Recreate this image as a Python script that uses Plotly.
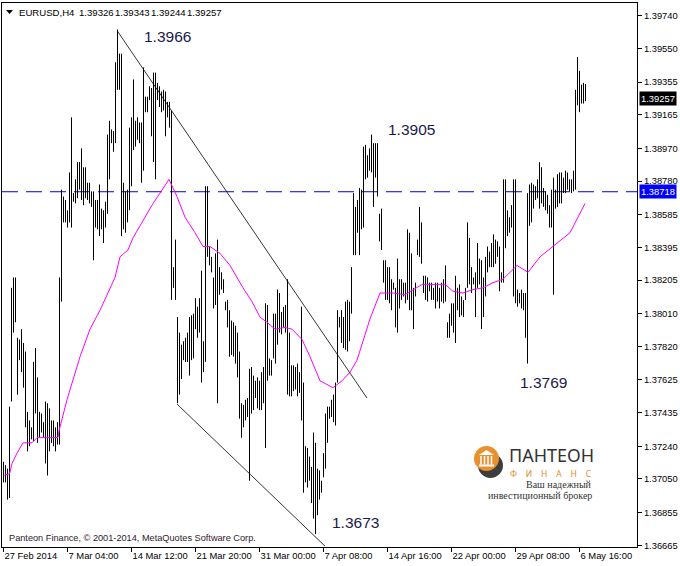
import plotly.graph_objects as go

# ---------------- data ----------------
symbol = "EURUSD,H4"
last_ohlc = [1.39326, 1.39343, 1.39244, 1.39257]

x_tick_bars = [0, 32, 64, 96, 128, 160, 192, 224, 256, 288]
x_tick_labels = ["27 Feb 2014", "7 Mar 04:00", "14 Mar 12:00", "21 Mar 20:00", "31 Mar 00:00",
                 "7 Apr 08:00", "14 Apr 16:00", "22 Apr 00:00", "29 Apr 08:00", "6 May 16:00"]

y_ticks = [1.36665, 1.36855, 1.37050, 1.37240, 1.37435, 1.37625, 1.37820, 1.38010, 1.38205,
           1.38395, 1.38585, 1.38780, 1.38970, 1.39165, 1.39355, 1.39550, 1.39740]

highs = [
    1.3715, 1.3713, 1.3711, 1.3747, 1.3816, 1.3822, 1.3822, 1.3787, 1.3786, 1.3792,
    1.3784, 1.3779, 1.3744, 1.3739, 1.3735, 1.3773, 1.3781, 1.3764, 1.3744, 1.3743,
    1.3738, 1.3750, 1.3749, 1.3746, 1.3739, 1.3739, 1.3735, 1.3738, 1.3822, 1.3873,
    1.3869, 1.3867, 1.3861, 1.3883, 1.3915, 1.3871, 1.3879, 1.3889, 1.3889, 1.3897,
    1.3886, 1.3886, 1.3877, 1.3877, 1.3872, 1.3872, 1.3867, 1.3867, 1.3876, 1.3862,
    1.3861, 1.3866, 1.3905, 1.3913, 1.3908, 1.3907, 1.3947, 1.3966, 1.3952, 1.3952,
    1.3877, 1.3872, 1.3873, 1.3909, 1.3915, 1.3937, 1.3913, 1.3915, 1.3912, 1.3912,
    1.3944, 1.3927, 1.3927, 1.3933, 1.3932, 1.3941, 1.3941, 1.3935, 1.3933, 1.3930,
    1.3931, 1.3930, 1.3924, 1.3924, 1.3919, 1.3828, 1.3844, 1.3799, 1.3790, 1.3783,
    1.3785, 1.3787, 1.3790, 1.3799, 1.3800, 1.3801, 1.3810, 1.3805, 1.3810, 1.3826,
    1.3785, 1.3875, 1.3875, 1.3840, 1.3834, 1.3822, 1.3836, 1.3844, 1.3828, 1.3825,
    1.3821, 1.3808, 1.3809, 1.3803, 1.3797, 1.3796, 1.3794, 1.3790, 1.3779, 1.3749,
    1.3748, 1.3751, 1.3752, 1.3769, 1.3770, 1.3765, 1.3762, 1.3764, 1.3762, 1.3767,
    1.3770, 1.3807, 1.3806, 1.3775, 1.3774, 1.3801, 1.3801, 1.3815, 1.3813, 1.3802,
    1.3805, 1.3806, 1.3821, 1.3790, 1.3771, 1.3771, 1.3770, 1.3772, 1.3767, 1.3805,
    1.3761, 1.3724, 1.3723, 1.3718, 1.3712, 1.3732, 1.3726, 1.3711, 1.3710, 1.3704,
    1.3720, 1.3743, 1.3747, 1.3747, 1.3751, 1.3754, 1.3761, 1.3803, 1.3799, 1.3803,
    1.3799, 1.3808, 1.3809, 1.3808, 1.3828, 1.3871, 1.3863, 1.3867, 1.3874, 1.3873,
    1.3898, 1.3899, 1.3893, 1.3897, 1.3905, 1.3900, 1.3900, 1.3900, 1.3859, 1.3862,
    1.3832, 1.3832, 1.3828, 1.3828, 1.3821, 1.3819, 1.3816, 1.3833, 1.3821, 1.3821,
    1.3819, 1.3819, 1.3850, 1.3848, 1.3836, 1.3816, 1.3819, 1.3844, 1.3863, 1.3854,
    1.3823, 1.3823, 1.3822, 1.3819, 1.3819, 1.3816, 1.3819, 1.3819, 1.3816, 1.3819,
    1.3821, 1.3829, 1.3796, 1.3801, 1.3807, 1.3807, 1.3823, 1.3816, 1.3818, 1.3811,
    1.3809, 1.3816, 1.3854, 1.3845, 1.3828, 1.3822, 1.3825, 1.3842, 1.3833, 1.3832,
    1.3822, 1.3834, 1.3840, 1.3837, 1.3842, 1.3847, 1.3844, 1.3843, 1.3840, 1.3825,
    1.3879, 1.3879, 1.3861, 1.3857, 1.3864, 1.3879, 1.3879, 1.3815, 1.3813, 1.3815,
    1.3813, 1.3813, 1.3871, 1.3876, 1.3877, 1.3876, 1.3875, 1.3879, 1.3889, 1.3886,
    1.3874, 1.3872, 1.3870, 1.3864, 1.3873, 1.3880, 1.3873, 1.3882, 1.3883, 1.3883,
    1.3880, 1.3884, 1.3883, 1.3879, 1.3879, 1.3884, 1.3931, 1.3950, 1.3942, 1.3934,
    1.3935, 1.39343,
]

lows = [
    1.3703, 1.3703, 1.3693, 1.3694, 1.3750, 1.3790, 1.3796, 1.3754, 1.3774, 1.3767,
    1.3758, 1.3735, 1.3721, 1.3724, 1.3728, 1.3727, 1.3743, 1.3726, 1.3729, 1.3732,
    1.3729, 1.3714, 1.3707, 1.3721, 1.3726, 1.3724, 1.3721, 1.3725, 1.3725, 1.3808,
    1.3854, 1.3854, 1.3851, 1.3854, 1.3851, 1.3866, 1.3865, 1.3868, 1.3873, 1.3867,
    1.3864, 1.3868, 1.3867, 1.3865, 1.3863, 1.3832, 1.3851, 1.3850, 1.3846, 1.3850,
    1.3842, 1.3851, 1.3859, 1.3879, 1.3900, 1.3895, 1.3900, 1.3931, 1.3931, 1.3846,
    1.3850, 1.3848, 1.3854, 1.3861, 1.3875, 1.3896, 1.3898, 1.3902, 1.3900, 1.3877,
    1.3884, 1.3918, 1.3918, 1.3925, 1.3904, 1.3889, 1.3879, 1.3925, 1.3921, 1.3918,
    1.3919, 1.3904, 1.3915, 1.3909, 1.3809, 1.3816, 1.3809, 1.3749, 1.3754, 1.3763,
    1.3774, 1.3773, 1.3773, 1.3765, 1.3774, 1.3775, 1.3792, 1.3787, 1.3790, 1.3761,
    1.3767, 1.3773, 1.3834, 1.3829, 1.3825, 1.3804, 1.3806, 1.3749, 1.3812, 1.3815,
    1.3813, 1.3803, 1.3793, 1.3776, 1.3777, 1.3776, 1.3772, 1.3764, 1.3740, 1.3729,
    1.3735, 1.3739, 1.3741, 1.3704, 1.3743, 1.3745, 1.3752, 1.3746, 1.3745, 1.3745,
    1.3749, 1.3723, 1.3762, 1.3765, 1.3765, 1.3775, 1.3772, 1.3783, 1.3790, 1.3789,
    1.3793, 1.3790, 1.3754, 1.3753, 1.3753, 1.3756, 1.3757, 1.3753, 1.3755, 1.3739,
    1.3697, 1.3703, 1.3700, 1.3704, 1.3691, 1.3682, 1.3673, 1.3684, 1.3693, 1.3697,
    1.3706, 1.3711, 1.3726, 1.3740, 1.3741, 1.3738, 1.3736, 1.3761, 1.3793, 1.3784,
    1.3781, 1.3780, 1.3779, 1.3785, 1.3801, 1.3835, 1.3835, 1.3848, 1.3835, 1.3850,
    1.3851, 1.3879, 1.3880, 1.3884, 1.3883, 1.3863, 1.3880, 1.3869, 1.3843, 1.3838,
    1.3819, 1.3809, 1.3809, 1.3807, 1.3803, 1.3815, 1.3793, 1.3790, 1.3804, 1.3809,
    1.3811, 1.3807, 1.3809, 1.3803, 1.3803, 1.3792, 1.3811, 1.3835, 1.3834, 1.3830,
    1.3813, 1.3809, 1.3808, 1.3814, 1.3809, 1.3809, 1.3804, 1.3808, 1.3804, 1.3808,
    1.3807, 1.3808, 1.3787, 1.3787, 1.3794, 1.3790, 1.3784, 1.3803, 1.3799, 1.3800,
    1.3799, 1.3809, 1.3816, 1.3818, 1.3813, 1.3818, 1.3799, 1.3816, 1.3818, 1.3792,
    1.3799, 1.3811, 1.3825, 1.3828, 1.3828, 1.3828, 1.3830, 1.3834, 1.3814, 1.3819,
    1.3819, 1.3839, 1.3846, 1.3848, 1.3851, 1.3811, 1.3807, 1.3805, 1.3807, 1.3804,
    1.3803, 1.3787, 1.3772, 1.3852, 1.3854, 1.3862, 1.3867, 1.3868, 1.3862, 1.3865,
    1.3863, 1.3861, 1.3859, 1.3851, 1.3851, 1.3812, 1.3862, 1.3863, 1.3865, 1.3865,
    1.3871, 1.3871, 1.3873, 1.3872, 1.3871, 1.3872, 1.3873, 1.3922, 1.3918, 1.3923,
    1.3923, 1.39244,
]

# moving average (magenta), read at selected bars
ma_x = [0, 3, 4.25, 6.75, 9.75, 14.25, 16.75, 20.75, 27.25, 27.75, 31.75, 38.25, 43.25,
        48.25, 53.25, 55.75, 58.25, 62.25, 64.75, 69.75, 74.75, 78.25, 82.75, 86.75, 90.75,
        95.75, 99.75, 103.25, 108.25, 113.25, 119.75, 124.25, 128.25, 131.75, 135.75, 140.75,
        144.25, 149.25, 153.25, 158.25, 164.75, 169.25, 173.25, 176.75, 181.75, 183.25,
        188.25, 194.75, 200.75, 209.25, 214.75, 220.75, 224.75, 229.75, 234.75, 239.75,
        244.75, 249.75, 256.75, 262.25, 268.25, 274.75, 283.25, 290.75]
ma_y = [1.3707, 1.3708, 1.3714, 1.3720, 1.3726, 1.3726, 1.3729, 1.3729, 1.3729, 1.3733,
        1.3751, 1.3776, 1.3792, 1.3803, 1.3815, 1.3822, 1.3834, 1.3838, 1.3845, 1.3855,
        1.3865, 1.3871, 1.3879, 1.3869, 1.3857, 1.3848, 1.3840, 1.3840, 1.3836, 1.3829,
        1.3816, 1.3808, 1.3799, 1.3796, 1.3792, 1.3793, 1.3792, 1.3786, 1.3776, 1.3762,
        1.3758, 1.3762, 1.3767, 1.3774, 1.3793, 1.3798, 1.3813, 1.3813, 1.3812, 1.3818,
        1.3818, 1.3818, 1.3814, 1.3813, 1.3815, 1.3816, 1.3819, 1.3821, 1.3829, 1.3825,
        1.3834, 1.3840, 1.3848, 1.3865]

trend_upper_x = [57, 181.75]
trend_upper_y = [1.3965, 1.3752]
trend_lower_x = [86.75, 160.75]
trend_lower_y = [1.37485, 1.3666]

hline_price = 1.38718
bid_price = last_ohlc[3]

note_texts = ["1.3966", "1.3905", "1.3769", "1.3673"]
note_x = [69.25, 191.25, 257.25, 163.25]
note_y = [1.3962, 1.3908, 1.3761, 1.3680]

copyright_text = "Panteon Finance, © 2001-2014, MetaQuotes Software Corp."

# ---------------- layout helpers (pixel -> paper) ----------------
W, H = 680, 566
ML, MR, MT, MB = 2, 43, 3, 19
PW, PH = W - ML - MR, H - MT - MB


def px(x):
    return (x - ML) / PW


def py(y):
    return (MT + PH - y) / PH


FONT = "Liberation Sans, Arial, sans-serif"

# ---------------- traces ----------------
bx, by = [], []
for i, (h, l) in enumerate(zip(highs, lows)):
    bx += [i, i, None]
    by += [l, h, None]

fig = go.Figure()
fig.add_trace(go.Scatter(x=bx, y=by, mode="lines", line=dict(color="black", width=1),
                         hoverinfo="skip", showlegend=False))
fig.add_trace(go.Scatter(x=ma_x, y=ma_y, mode="lines", line=dict(color="#ff00ff", width=1),
                         hoverinfo="skip", showlegend=False))
fig.add_trace(go.Scatter(x=trend_upper_x, y=trend_upper_y, mode="lines",
                         line=dict(color="black", width=0.8), hoverinfo="skip", showlegend=False))
fig.add_trace(go.Scatter(x=trend_lower_x, y=trend_lower_y, mode="lines",
                         line=dict(color="black", width=0.8), hoverinfo="skip", showlegend=False))

shapes = [
    dict(type="line", xref="paper", x0=0, x1=1, yref="y", y0=hline_price, y1=hline_price,
         line=dict(color="#0000dd", width=1, dash="16px,8px"), layer="below"),
    # small menu triangle of the chart title
    dict(type="path", xref="paper", yref="paper",
         path=f"M {px(6)},{py(10)} L {px(13)},{py(10)} L {px(9.5)},{py(14)} Z",
         fillcolor="black", line=dict(width=0)),
    # logo icon
    dict(type="circle", xref="paper", yref="paper", x0=px(478), x1=px(503), y0=py(478), y1=py(453),
         fillcolor="#3d3d3d", line=dict(width=0)),
    dict(type="circle", xref="paper", yref="paper", x0=px(474), x1=px(499), y0=py(471), y1=py(446),
         fillcolor="#e8912e", line=dict(width=0)),
    dict(type="path", xref="paper", yref="paper",
         path=f"M {px(479)},{py(455)} L {px(486.5)},{py(450)} L {px(494)},{py(455)} Z",
         fillcolor="white", line=dict(width=0)),
    dict(type="rect", xref="paper", yref="paper", x0=px(479), x1=px(494), y0=py(466.5), y1=py(464.5),
         fillcolor="white", line=dict(width=0)),
]
for cx in [481, 484.5, 488, 491.5]:
    shapes.append(dict(type="line", xref="paper", yref="paper", x0=px(cx), x1=px(cx),
                       y0=py(464.5), y1=py(456), line=dict(color="white", width=1.5)))

annotations = []
# chart title: symbol then O H L C of the last bar, each at its own place
title_parts = [symbol] + [f"{v:.5f}" for v in last_ohlc]
title_left = [17, 77, 113, 149, 185]
for t, xl in zip(title_parts, title_left):
    annotations.append(dict(xref="paper", yref="paper", x=px(xl), y=py(12), xanchor="left",
                            yanchor="middle", text=t, showarrow=False,
                            font=dict(family=FONT, size=9.6, color="black")))
for t, xv, yv in zip(note_texts, note_x, note_y):
    annotations.append(dict(xref="x", yref="y", x=xv, y=yv, xanchor="left", yanchor="middle",
                            text=t, showarrow=False,
                            font=dict(family=FONT, size=15.5, color="#1a1a4a")))
annotations.append(dict(xref="paper", yref="paper", x=px(7), y=py(538), xanchor="left",
                        yanchor="middle", text=copyright_text, showarrow=False,
                        font=dict(family=FONT, size=9.2, color="#301830")))
# price boxes on the right axis
annotations.append(dict(xref="paper", yref="y", x=px(639), y=bid_price, xanchor="left",
                        yanchor="middle", text=f"{bid_price:.5f}", showarrow=False,
                        bgcolor="black", borderpad=1,
                        font=dict(family=FONT, size=9.4, color="white")))
annotations.append(dict(xref="paper", yref="y", x=px(639), y=hline_price, xanchor="left",
                        yanchor="middle", text=f"{hline_price:.5f}", showarrow=False,
                        bgcolor="#0000ff", borderpad=1,
                        font=dict(family=FONT, size=9.4, color="white")))
# logo texts
annotations.append(dict(xref="paper", yref="paper", x=px(596), y=py(455), xanchor="right",
                        yanchor="middle", text="ПАНТЕОН", showarrow=False,
                        font=dict(family="Noto Sans, DejaVu Sans", size=18, color="#333333")))
nb = "\u00a0" * 4
annotations.append(dict(xref="paper", yref="paper", x=px(594), y=py(473.5), xanchor="right",
                        yanchor="middle", text=nb.join("ФИНАНС"), showarrow=False,
                        font=dict(family="Noto Sans, DejaVu Sans", size=8.5, color="#e8892b")))
annotations.append(dict(xref="paper", yref="paper", x=px(594), y=py(484.5), xanchor="right",
                        yanchor="middle", text="Ваш надежный", showarrow=False,
                        font=dict(family="Liberation Serif, serif", size=10, color="#333333")))
annotations.append(dict(xref="paper", yref="paper", x=px(594), y=py(495.5), xanchor="right",
                        yanchor="middle", text="инвестиционный брокер", showarrow=False,
                        font=dict(family="Liberation Serif, serif", size=10, color="#333333")))

fig.update_layout(
    width=W, height=H,
    margin=dict(l=ML, r=MR, t=MT, b=MB),
    paper_bgcolor="white", plot_bgcolor="white",
    showlegend=False,
    shapes=shapes,
    annotations=annotations,
    xaxis=dict(range=[-0.75, 316.75], showgrid=False, zeroline=False, showline=True,
               mirror=True, linecolor="black", linewidth=1, ticks="outside", ticklen=4,
               tickcolor="black", tickvals=x_tick_bars, ticktext=x_tick_labels,
               ticklabelposition="outside right", tickangle=0,
               tickfont=dict(family=FONT, size=9.4, color="black"), fixedrange=True),
    yaxis=dict(range=[1.36655, 1.39814], side="right", showgrid=False, zeroline=False,
               showline=True, mirror=True, linecolor="black", linewidth=1, ticks="outside",
               ticklen=4, tickcolor="black", tickvals=y_ticks,
               ticktext=[f"{v:.5f}" for v in y_ticks],
               tickfont=dict(family=FONT, size=9.4, color="black"), fixedrange=True),
)

fig.write_html("out.html", config={"displayModeBar": False},
               post_script="document.body.style.margin='0';document.body.style.overflow='hidden';")
